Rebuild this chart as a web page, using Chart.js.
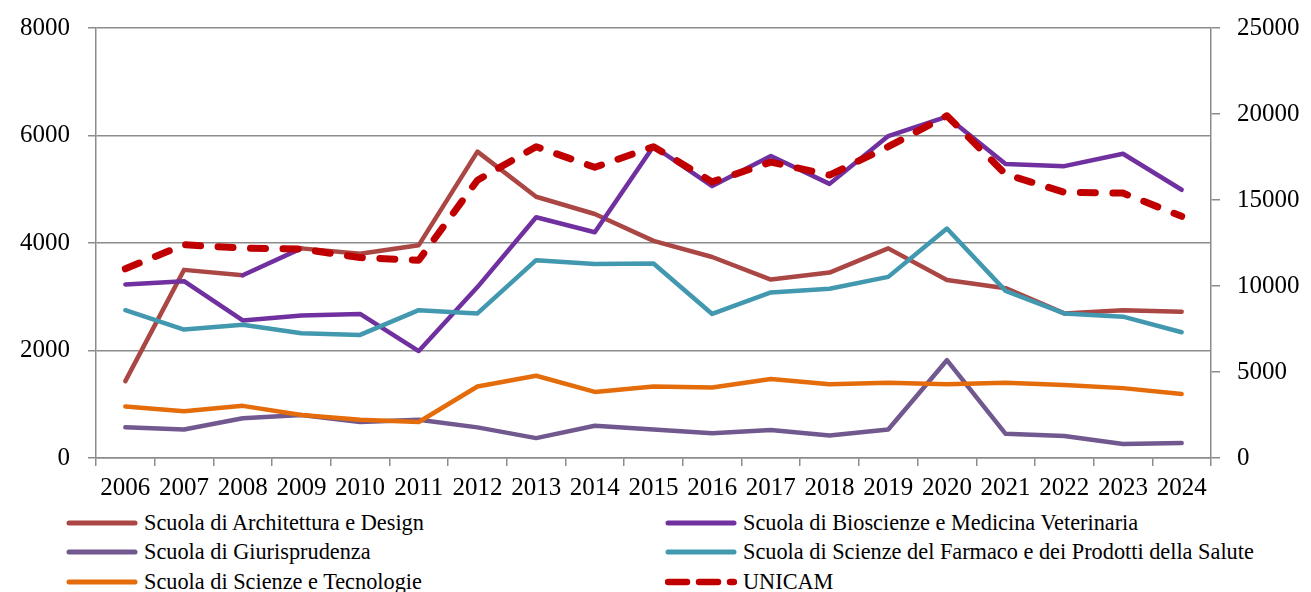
<!DOCTYPE html>
<html>
<head>
<meta charset="utf-8">
<script src="https://cdn.jsdelivr.net/npm/chart.js@4.4.1/dist/chart.umd.min.js"></script>
<style>
  body { margin: 0; background: #fff; }
  #wrap { position: relative; width: 1311px; height: 592px; }
  #legend {
    position: absolute; left: 66px; top: 508px;
    display: grid; grid-template-columns: 599px 600px;
    grid-auto-rows: 29.5px;
    font-family: 'Liberation Serif', serif; font-size: 22.3px; color: #000;
  }
  .item { display: flex; align-items: center; white-space: nowrap; }
  .item svg { margin-right: 6px; flex: none; }
</style>
</head>
<body>
<div id="wrap">
  <canvas id="enrolChart" width="1311" height="508"></canvas>
  <div id="legend"></div>
</div>
<script>
const years = ['2006','2007','2008','2009','2010','2011','2012','2013','2014','2015',
  '2016','2017','2018','2019','2020','2021','2022','2023','2024'];

const architettura = [1430, 3500, 3400, 3900, 3800, 3960, 5700, 4860, 4540, 4040,
  3740, 3320, 3450, 3900, 3310, 3160, 2690, 2750, 2720];
const bioscienze = [3230, 3290, 2560, 2650, 2680, 1990, 3180, 4480, 4200, 5800,
  5060, 5620, 5100, 5990, 6350, 5470, 5430, 5660, 4990];
const giurisprudenza = [570, 530, 740, 800, 670, 710, 570, 370, 600, 530,
  460, 520, 420, 530, 1820, 450, 410, 260, 280];
const farmaco = [2750, 2390, 2480, 2320, 2290, 2750, 2690, 3680, 3610, 3620,
  2680, 3080, 3150, 3370, 4270, 3110, 2690, 2630, 2340];
const scienzeTec = [960, 870, 970, 800, 710, 670, 1330, 1530, 1230, 1330,
  1310, 1470, 1370, 1400, 1370, 1400, 1360, 1300, 1190];
const unicam = [11000, 12400, 12200, 12150, 11650, 11500, 16150, 18100, 16900, 18100,
  16050, 17200, 16450, 18100, 19900, 16500, 15450, 15400, 14050];

const leftTicks = [0, 2000, 4000, 6000, 8000];
const rightTicks = [0, 5000, 10000, 15000, 20000, 25000];

const gridGrey = '#8c8c8c';
const tickFont = { family: 'Liberation Serif', size: 25 };

function line(label, data, color, order) {
  return {
    label: label, data: data, yAxisID: 'y',
    borderColor: color, backgroundColor: color,
    borderWidth: 4.5, pointRadius: 0, tension: 0,
    borderCapStyle: 'round', borderJoinStyle: 'round',
    order: order
  }
}

const archSet = line('Scuola di Architettura e Design', architettura, '#AA4643', 6);
// in the original the 2008-2009 stretch of this line shows in the Bioscienze purple
archSet.segment = { borderColor: ctx => ctx.p0DataIndex === 2 ? '#7030A0' : undefined };

const unicamSet = {
  label: 'UNICAM', data: unicam, yAxisID: 'y1',
  borderColor: '#C00000', backgroundColor: '#C00000',
  borderWidth: 7, pointRadius: 0, tension: 0,
  borderDash: [15, 17.5], borderCapStyle: 'round', borderJoinStyle: 'round',
  order: 1
};

const datasets = [
  archSet,
  line('Scuola di Bioscienze e Medicina Veterinaria', bioscienze, '#7030A0', 5),
  line('Scuola di Giurisprudenza', giurisprudenza, '#71588F', 4),
  line('Scuola di Scienze del Farmaco e dei Prodotti della Salute', farmaco, '#4198AF', 3),
  line('Scuola di Scienze e Tecnologie', scienzeTec, '#E46C0A', 2),
  unicamSet
];

const plain = v => String(v);

// fixed axis widths, and no extra room reserved for the half-height of end labels
function fitY(width) {
  return s => { s.width = width; s.paddingTop = 0; s.paddingBottom = 0 }
}

const chart = new Chart(document.getElementById('enrolChart').getContext('2d'), {
  type: 'line',
  data: { labels: years, datasets: datasets },
  options: {
    responsive: false,
    animation: false,
    layout: { padding: { top: 28, left: 0, right: 0, bottom: 0 } },
    plugins: { legend: { display: false }, tooltip: { enabled: false } },
    scales: {
      x: {
        offset: true,
        grid: { drawOnChartArea: false, offset: true, tickLength: 8, color: gridGrey, lineWidth: 1.5 },
        border: { color: gridGrey, width: 1.5 },
        ticks: { font: tickFont, color: '#000', maxRotation: 0, autoSkip: false, padding: 7 },
        afterFit: s => { s.height = 50; s.paddingLeft = 0; s.paddingRight = 0 }
      },
      y: {
        position: 'left', min: 0, max: 8000,
        afterBuildTicks: s => { s.ticks = leftTicks.map(v => ({ value: v })) },
        grid: { color: gridGrey, lineWidth: 1.5, tickLength: 8 },
        border: { color: gridGrey, width: 1.5 },
        ticks: { font: tickFont, color: '#000', padding: 18, callback: plain },
        afterFit: fitY(96)
      },
      y1: {
        position: 'right', min: 0, max: 25000,
        afterBuildTicks: s => { s.ticks = rightTicks.map(v => ({ value: v })) },
        grid: { drawOnChartArea: false, color: gridGrey, lineWidth: 1.5, tickLength: 9 },
        border: { color: gridGrey, width: 1.5 },
        ticks: { font: tickFont, color: '#000', padding: 17, callback: plain },
        afterFit: fitY(100)
      }
    }
  }
});

// two-column legend under the chart, built from the datasets
const legend = document.getElementById('legend');
chart.data.datasets.forEach(ds => {
  const item = document.createElement('div');
  item.className = 'item';
  const dash = ds.borderDash ? 'stroke-dasharray="19 12"' : '';
  const w = ds.borderDash ? 6.5 : 5;
  item.innerHTML = '<svg width="72" height="10"><line x1="3" y1="5" x2="69" y2="5" stroke="' +
    ds.borderColor + '" stroke-width="' + w + '" stroke-linecap="round" ' + dash + '/></svg>';
  const txt = document.createElement('span');
  txt.textContent = ds.label;
  item.appendChild(txt);
  legend.appendChild(item);
});
</script>
</body>
</html>
